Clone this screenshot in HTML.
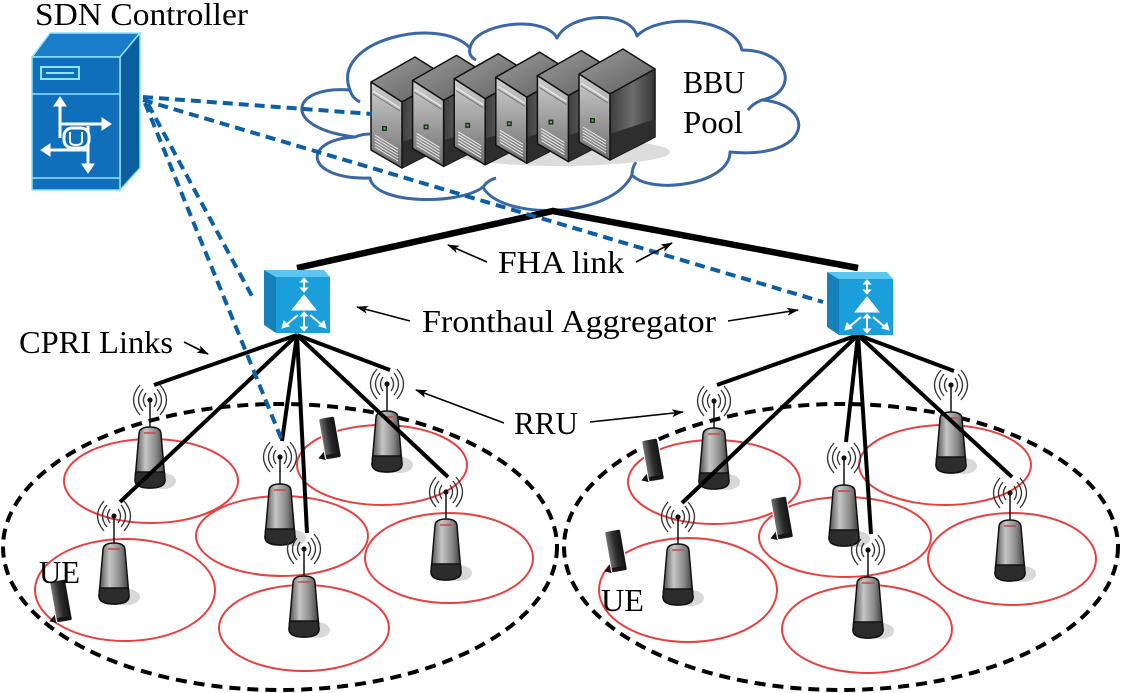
<!DOCTYPE html>
<html><head><meta charset="utf-8"><style>
html,body{margin:0;padding:0;background:#fff;}
svg{display:block;}
text{font-family:"Liberation Serif",serif;fill:#000;font-size:32px;}
</style></head><body>
<svg width="1121" height="693" viewBox="0 0 1121 693" xmlns="http://www.w3.org/2000/svg">
<defs>
 <linearGradient id="tw" x1="0" x2="1" y1="0" y2="0">
  <stop offset="0" stop-color="#4a4a4a"/>
  <stop offset="0.35" stop-color="#c6c6c6"/>
  <stop offset="0.7" stop-color="#8a8a8a"/>
  <stop offset="1" stop-color="#3a3a3a"/>
 </linearGradient>
 <linearGradient id="phg" x1="0" x2="1" y1="0" y2="0">
  <stop offset="0" stop-color="#777"/>
  <stop offset="0.5" stop-color="#2a2a2a"/>
  <stop offset="1" stop-color="#111"/>
 </linearGradient>
 <linearGradient id="sfront" x1="0" x2="0" y1="0" y2="1">
  <stop offset="0" stop-color="#cfcfcf"/>
  <stop offset="0.45" stop-color="#a4a4a4"/>
  <stop offset="1" stop-color="#6e6e6e"/>
 </linearGradient>
 <linearGradient id="sright" x1="0" x2="1" y1="0" y2="0">
  <stop offset="0" stop-color="#3e3e3e"/>
  <stop offset="0.5" stop-color="#6c6c6c"/>
  <stop offset="1" stop-color="#363636"/>
 </linearGradient>
 <linearGradient id="stop" x1="0" x2="1" y1="0" y2="1">
  <stop offset="0" stop-color="#9c9c9c"/>
  <stop offset="1" stop-color="#5e5e5e"/>
 </linearGradient>
 <marker id="ah" markerWidth="12" markerHeight="8" refX="11" refY="4" orient="auto" markerUnits="userSpaceOnUse">
  <path d="M0,0 L12,4 L0,8 L3,4 Z" fill="#000"/>
 </marker>
 <g id="tower">
  <ellipse cx="13" cy="81" rx="13" ry="8" fill="#d8d8d8"/>
  <line x1="0" y1="0" x2="0" y2="33" stroke="#111" stroke-width="1.5"/>
  <path d="M-11,34 Q-11,27 0,27 Q11,27 11,34 L15,80 Q15,88 0,88 Q-15,88 -15,80 Z" fill="url(#tw)" stroke="#111" stroke-width="1.5"/>
  <path d="M-14.3,72 L14.3,72 L15,80 Q15,88 0,88 Q-15,88 -15,80 Z" fill="#2c2c2c" stroke="#111" stroke-width="1.5"/>
  <line x1="-6" y1="33" x2="6" y2="33" stroke="#c44" stroke-width="1.5"/>
  <g fill="none" stroke="#333" stroke-width="1.3">
   <path d="M-4,-7 Q-9,0 -4,7"/><path d="M4,-7 Q9,0 4,7"/>
   <path d="M-7,-11 Q-16,0 -7,11"/><path d="M7,-11 Q16,0 7,11"/>
   <path d="M-10,-15 Q-23,0 -10,15"/><path d="M10,-15 Q23,0 10,15"/>
  </g>
  <circle r="2.6" fill="#111"/>
 </g>
 <g id="phone">
  <path d="M-8,12 L-15,18 L-8,21 Z" fill="#111"/>
  <rect x="-8" y="-21" width="16" height="42" rx="2" fill="url(#phg)" stroke="#fff" stroke-width="1"/>
  <rect x="-7" y="16" width="14" height="4" fill="#151515"/>
 </g>
 <g id="srv">
  <polygon points="0,0 44,-25 76,-5 31,20" fill="url(#stop)" stroke="#111" stroke-width="1.5" stroke-linejoin="round"/>
  <polygon points="31,20 76,-5 76,63 31,86" fill="url(#sright)" stroke="#111" stroke-width="1.5" stroke-linejoin="round"/>
  <polygon points="31,60 76,45 76,63 31,86" fill="#2e2e2e"/>
  <polygon points="0,0 31,20 31,86 0,68" fill="url(#sfront)" stroke="#111" stroke-width="1.5" stroke-linejoin="round"/>
  <path d="M2,9 L29,26" stroke="#e6e6e6" stroke-width="1.5"/>
  <path d="M2,12 L29,29" stroke="#777" stroke-width="1"/>
  <rect x="11" y="44" width="5" height="5" fill="#2a2a2a"/>
  <rect x="12.5" y="45.5" width="2" height="2" fill="#4d4"/>
  <g stroke="#eee" stroke-width="1">
   <path d="M4,53 L27,67"/><path d="M4,56 L27,70"/><path d="M4,59 L27,73"/><path d="M4,62 L27,76"/><path d="M4,65 L27,79"/>
  </g>
 </g>
 <g id="agg">
  <polygon points="0,0 60,0 66,7 12,7" fill="#5cc6ee"/>
  <polygon points="0,0 12,7 12,63 0,55" fill="#1580ba"/>
  <rect x="12" y="7" width="54" height="56" fill="#1a9fda"/>
  <g fill="#fff" stroke="#fff" stroke-width="2">
   <line x1="40" y1="11" x2="40" y2="19"/>
   <polygon points="36.5,12 40,8 43.5,12" stroke-width="1"/>
   <polygon points="36.5,18 40,22 43.5,18" stroke-width="1"/>
   <polygon points="40,25 28,40 52,40" stroke-width="1"/>
   <line x1="40" y1="45" x2="40" y2="58"/>
   <polygon points="36.5,46 40,42 43.5,46" stroke-width="1"/>
   <polygon points="36.5,57 40,61 43.5,57" stroke-width="1"/>
   <line x1="34" y1="45" x2="22" y2="55"/>
   <polygon points="18,58 20,51 25,56" stroke-width="1"/>
   <line x1="46" y1="45" x2="58" y2="55"/>
   <polygon points="62,58 60,51 55,56" stroke-width="1"/>
  </g>
 </g>
</defs>

<!-- Cloud -->
<path d="M350,90 C330,40 440,15 470,48 C475,22 545,15 557,38 C570,12 630,10 637,36 C660,12 735,18 742,50 C790,50 800,92 762,100 C818,105 812,160 730,152 C730,185 650,195 632,175 C610,220 500,220 483,187 C460,205 375,205 370,178 C305,180 300,140 355,137 C280,128 290,85 350,90 Z" fill="#fff" stroke="#3a67a6" stroke-width="3" stroke-linejoin="round"/>
<g fill="none" stroke="#3a67a6" stroke-width="3">
 <path d="M350,90 Q352,98 360,102"/>
 <path d="M470,48 Q468,56 476,60"/>
 <path d="M762,100 Q752,104 748,110"/>
 <path d="M632,175 Q632,168 636,162"/>
 <path d="M483,187 Q488,180 496,178"/>
 <path d="M355,137 Q362,134 370,134"/>
</g>

<!-- Servers -->
<ellipse cx="560" cy="152" rx="110" ry="14" fill="#dcdcdc"/>
<use href="#srv" transform="translate(371,82)"/>
<use href="#srv" transform="translate(412.6,80.4)"/>
<use href="#srv" transform="translate(454.2,78.8)"/>
<use href="#srv" transform="translate(495.8,77.2)"/>
<use href="#srv" transform="translate(537.4,75.6)"/>
<use href="#srv" transform="translate(579,74)"/>

<text x="683" y="93" textLength="62" lengthAdjust="spacingAndGlyphs">BBU</text>
<text x="683" y="133" textLength="60" lengthAdjust="spacingAndGlyphs">Pool</text>

<!-- SDN controller -->
<g>
 <polygon points="32,57 50,33 140,33 120,57" fill="#1a7dc9" stroke="#8fe3fb" stroke-width="1.5"/>
 <polygon points="120,57 140,33 140,168 120,190" fill="#0c5f9f" stroke="#8fe3fb" stroke-width="1.5"/>
 <rect x="32" y="57" width="88" height="133" fill="#106fba" stroke="#8fe3fb" stroke-width="1.5"/>
 <rect x="41" y="67" width="38" height="12" fill="none" stroke="#8fe3fb" stroke-width="2"/>
 <line x1="46" y1="73" x2="74" y2="73" stroke="#8fe3fb" stroke-width="2"/>
 <line x1="32" y1="94" x2="120" y2="94" stroke="#8fe3fb" stroke-width="1.5"/>
 <line x1="32" y1="178" x2="120" y2="178" stroke="#8fe3fb" stroke-width="1.5"/>
 <g stroke="#fff" stroke-width="3" fill="#fff">
  <line x1="60" y1="138" x2="60" y2="104"/>
  <polygon points="54,106 60,97 66,106" stroke-width="1"/>
  <line x1="60" y1="124" x2="104" y2="124"/>
  <polygon points="102,118 111,124 102,130" stroke-width="1"/>
  <line x1="88" y1="150" x2="48" y2="150"/>
  <polygon points="50,144 41,150 50,156" stroke-width="1"/>
  <line x1="88" y1="126" x2="88" y2="166"/>
  <polygon points="82,164 88,173 94,164" stroke-width="1"/>
 </g>
 <rect x="64" y="128" width="25" height="20" rx="8" fill="#106fba" stroke="#fff" stroke-width="3"/>
 <path d="M70,132 L70,141 Q70,145 76,145 Q82,145 82,141 L82,132" fill="none" stroke="#fff" stroke-width="2"/>
</g>
<text x="35" y="25" textLength="213" lengthAdjust="spacingAndGlyphs">SDN Controller</text>

<!-- Red cell ellipses -->
<g fill="none" stroke="#e84040" stroke-width="2">
 <ellipse cx="151" cy="481" rx="87" ry="42"/>
 <ellipse cx="125" cy="590" rx="90" ry="51"/>
 <ellipse cx="282" cy="536" rx="86" ry="40"/>
 <ellipse cx="382" cy="465" rx="85" ry="40"/>
 <ellipse cx="449" cy="558" rx="84" ry="45"/>
 <ellipse cx="304" cy="628" rx="85" ry="43"/>
 <ellipse cx="714" cy="482" rx="86" ry="42"/>
 <ellipse cx="688" cy="590" rx="89" ry="52"/>
 <ellipse cx="845" cy="537" rx="86" ry="40"/>
 <ellipse cx="945" cy="465" rx="86" ry="40"/>
 <ellipse cx="1012" cy="559" rx="84" ry="46"/>
 <ellipse cx="867" cy="629" rx="85" ry="44"/>
</g>

<!-- Dashed cluster ellipses -->
<g fill="none" stroke="#000" stroke-width="4" stroke-dasharray="11 7">
 <ellipse cx="280" cy="547" rx="277" ry="143"/>
 <ellipse cx="841" cy="547" rx="277" ry="143"/>
</g>

<!-- Towers -->
<use href="#tower" transform="translate(150,400)"/>
<use href="#tower" transform="translate(114,516)"/>
<use href="#tower" transform="translate(280,457)"/>
<use href="#tower" transform="translate(387,384)"/>
<use href="#tower" transform="translate(446,492)"/>
<use href="#tower" transform="translate(304,549)"/>
<use href="#tower" transform="translate(714,401)"/>
<use href="#tower" transform="translate(678,517)"/>
<use href="#tower" transform="translate(844,458)"/>
<use href="#tower" transform="translate(951,385)"/>
<use href="#tower" transform="translate(1010,493)"/>
<use href="#tower" transform="translate(868,550)"/>

<!-- Phones -->
<use href="#phone" transform="translate(330,438) rotate(-10)"/>
<use href="#phone" transform="translate(61,601) rotate(-10)"/>
<use href="#phone" transform="translate(653,460) rotate(-10)"/>
<use href="#phone" transform="translate(782,518) rotate(-10)"/>
<use href="#phone" transform="translate(616,551) rotate(-10)"/>

<!-- FHA links -->
<polyline points="297,268 553,211 858,268" fill="none" stroke="#000" stroke-width="6.5" stroke-linejoin="miter"/>

<!-- CPRI links -->
<g stroke="#000" stroke-width="4" stroke-linecap="butt">
 <line x1="297" y1="335" x2="154" y2="385"/>
 <line x1="297" y1="335" x2="120" y2="502"/>
 <line x1="297" y1="335" x2="282" y2="441"/>
 <line x1="297" y1="335" x2="307" y2="533"/>
 <line x1="297" y1="335" x2="390" y2="370"/>
 <line x1="297" y1="335" x2="448" y2="477"/>
 <line x1="858" y1="335" x2="717" y2="385"/>
 <line x1="858" y1="335" x2="682" y2="503"/>
 <line x1="858" y1="335" x2="846" y2="442"/>
 <line x1="858" y1="335" x2="871" y2="534"/>
 <line x1="858" y1="335" x2="954" y2="371"/>
 <line x1="858" y1="335" x2="1012" y2="477"/>
</g>

<!-- Aggregators -->
<use href="#agg" transform="translate(264,270)"/>
<use href="#agg" transform="translate(827,272)"/>

<!-- Blue dashed control links -->
<g fill="none" stroke="#0b5fa5" stroke-width="4" stroke-dasharray="10 6">
 <line x1="143" y1="97" x2="372" y2="114"/>
 <line x1="143" y1="100" x2="823" y2="302"/>
 <line x1="145" y1="103" x2="283" y2="443"/>
 <line x1="148" y1="104" x2="253" y2="298"/>
</g>

<!-- Labels & arrows -->
<g stroke="#000" stroke-width="1.6" fill="none" marker-end="url(#ah)">
 <line x1="487" y1="262" x2="448" y2="245"/>
 <line x1="636" y1="262" x2="672" y2="243"/>
 <line x1="410" y1="321" x2="357" y2="307"/>
 <line x1="728" y1="321" x2="798" y2="310"/>
 <line x1="184" y1="342" x2="208" y2="354"/>
 <line x1="504" y1="423" x2="416" y2="390"/>
 <line x1="590" y1="422" x2="683" y2="412"/>
</g>
<text x="498" y="273" textLength="126" lengthAdjust="spacingAndGlyphs">FHA link</text>
<text x="422" y="332" textLength="294" lengthAdjust="spacingAndGlyphs">Fronthaul Aggregator</text>
<text x="19" y="353" textLength="154" lengthAdjust="spacingAndGlyphs">CPRI Links</text>
<text x="514" y="434" textLength="64" lengthAdjust="spacingAndGlyphs">RRU</text>
<text x="39" y="583" textLength="41" lengthAdjust="spacingAndGlyphs">UE</text>
<text x="601" y="611" textLength="43" lengthAdjust="spacingAndGlyphs">UE</text>
</svg>
</body></html>
